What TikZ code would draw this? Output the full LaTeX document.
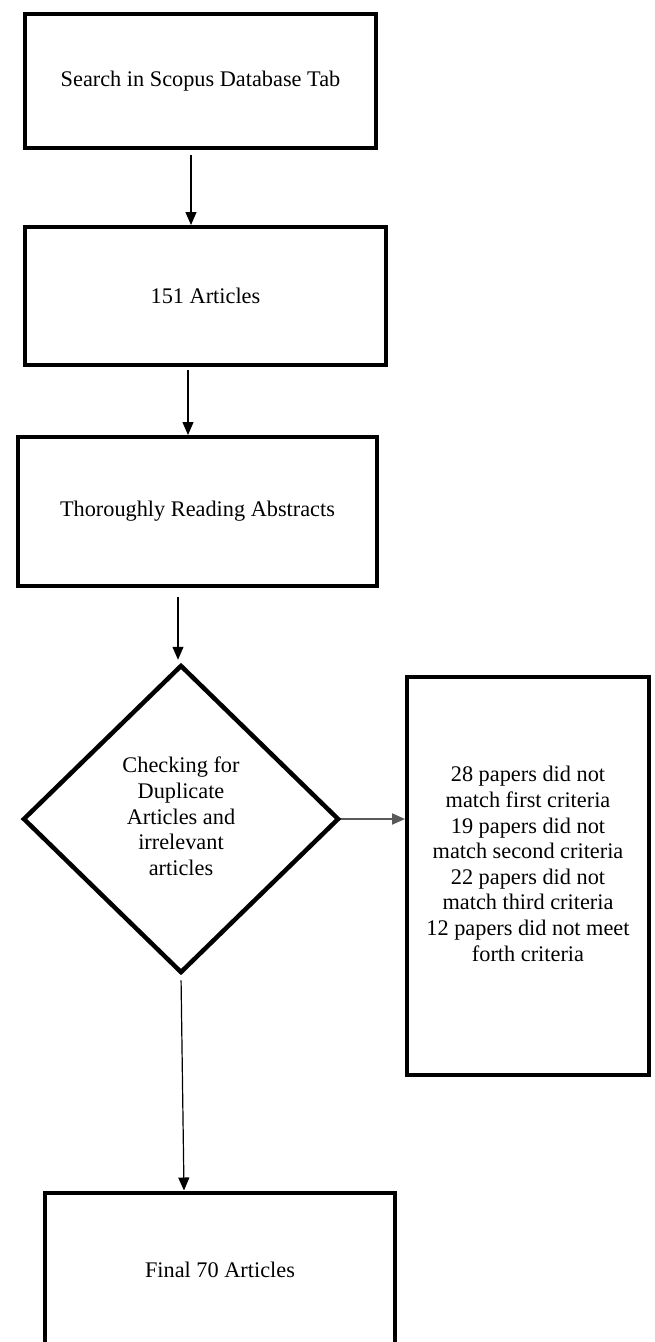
\documentclass[tikz,border=0pt]{standalone}
\usepackage{fontspec}
\setmainfont{Liberation Serif}
\usetikzlibrary{arrows.meta, shapes.geometric}

\tikzset{
    procbox/.style = {draw, line width = 4pt, align = center, inner sep = 0pt},
    flowline/.style = {-{Triangle[length = 13pt, width = 11pt]}, line width = 1.2pt}
}

\begin{document}
\begin{tikzpicture}[x = 1pt, y = -1pt, font = \fontsize{22.3}{25.6}\selectfont]
        \useasboundingbox[fill = white] (0, 0) rectangle (654, 1342);

        \node[procbox, minimum width = 351pt, minimum height = 134pt] (search) at (200.5, 81) {Search in Scopus Database Tab};
        \node[procbox, minimum width = 361pt, minimum height = 138pt] (found) at (205.5, 296) {151 Articles};
        \node[procbox, minimum width = 359pt, minimum height = 149pt] (reading) at (197.5, 511.5) {Thoroughly Reading Abstracts};
        \node[procbox, diamond, line width = 4.5pt, minimum width = 316pt, minimum height = 308pt] (check) at (181, 819)
            {Checking for\\Duplicate\\Articles and\\irrelevant\\articles\\[-20pt]};
        \node[procbox, minimum width = 242pt, minimum height = 398pt] (excluded) at (528, 876)
            {28 papers did not\\match first criteria\\19 papers did not\\match second criteria\\22 papers did not\\match third criteria\\12 papers did not meet\\forth criteria\\[-1pt]};
        \node[procbox, minimum width = 350pt, minimum height = 155pt] (final) at (220, 1270) {Final 70 Articles};

        \begin{scope}[flowline]
            \draw[shorten < = 5pt] ([xshift = -9.5pt]search.south) -- ([xshift = -14.5pt]found.north);
            \draw[shorten < = 3pt] ([xshift = -17.5pt]found.south) -- ([xshift = -9.5pt]reading.north);
            \draw[shorten < = 9pt, shorten > = 3pt] ([xshift = -19.5pt]reading.south) -- ([xshift = -3pt]check.north);
            \draw[shorten < = 5pt] (check.south) -- ([xshift = -36pt]final.north);
            \draw[gray!70!black, line width = 2pt] (check.east) -- (check.east -| excluded.west);
        \end{scope}
    \end{tikzpicture}
\end{document}
